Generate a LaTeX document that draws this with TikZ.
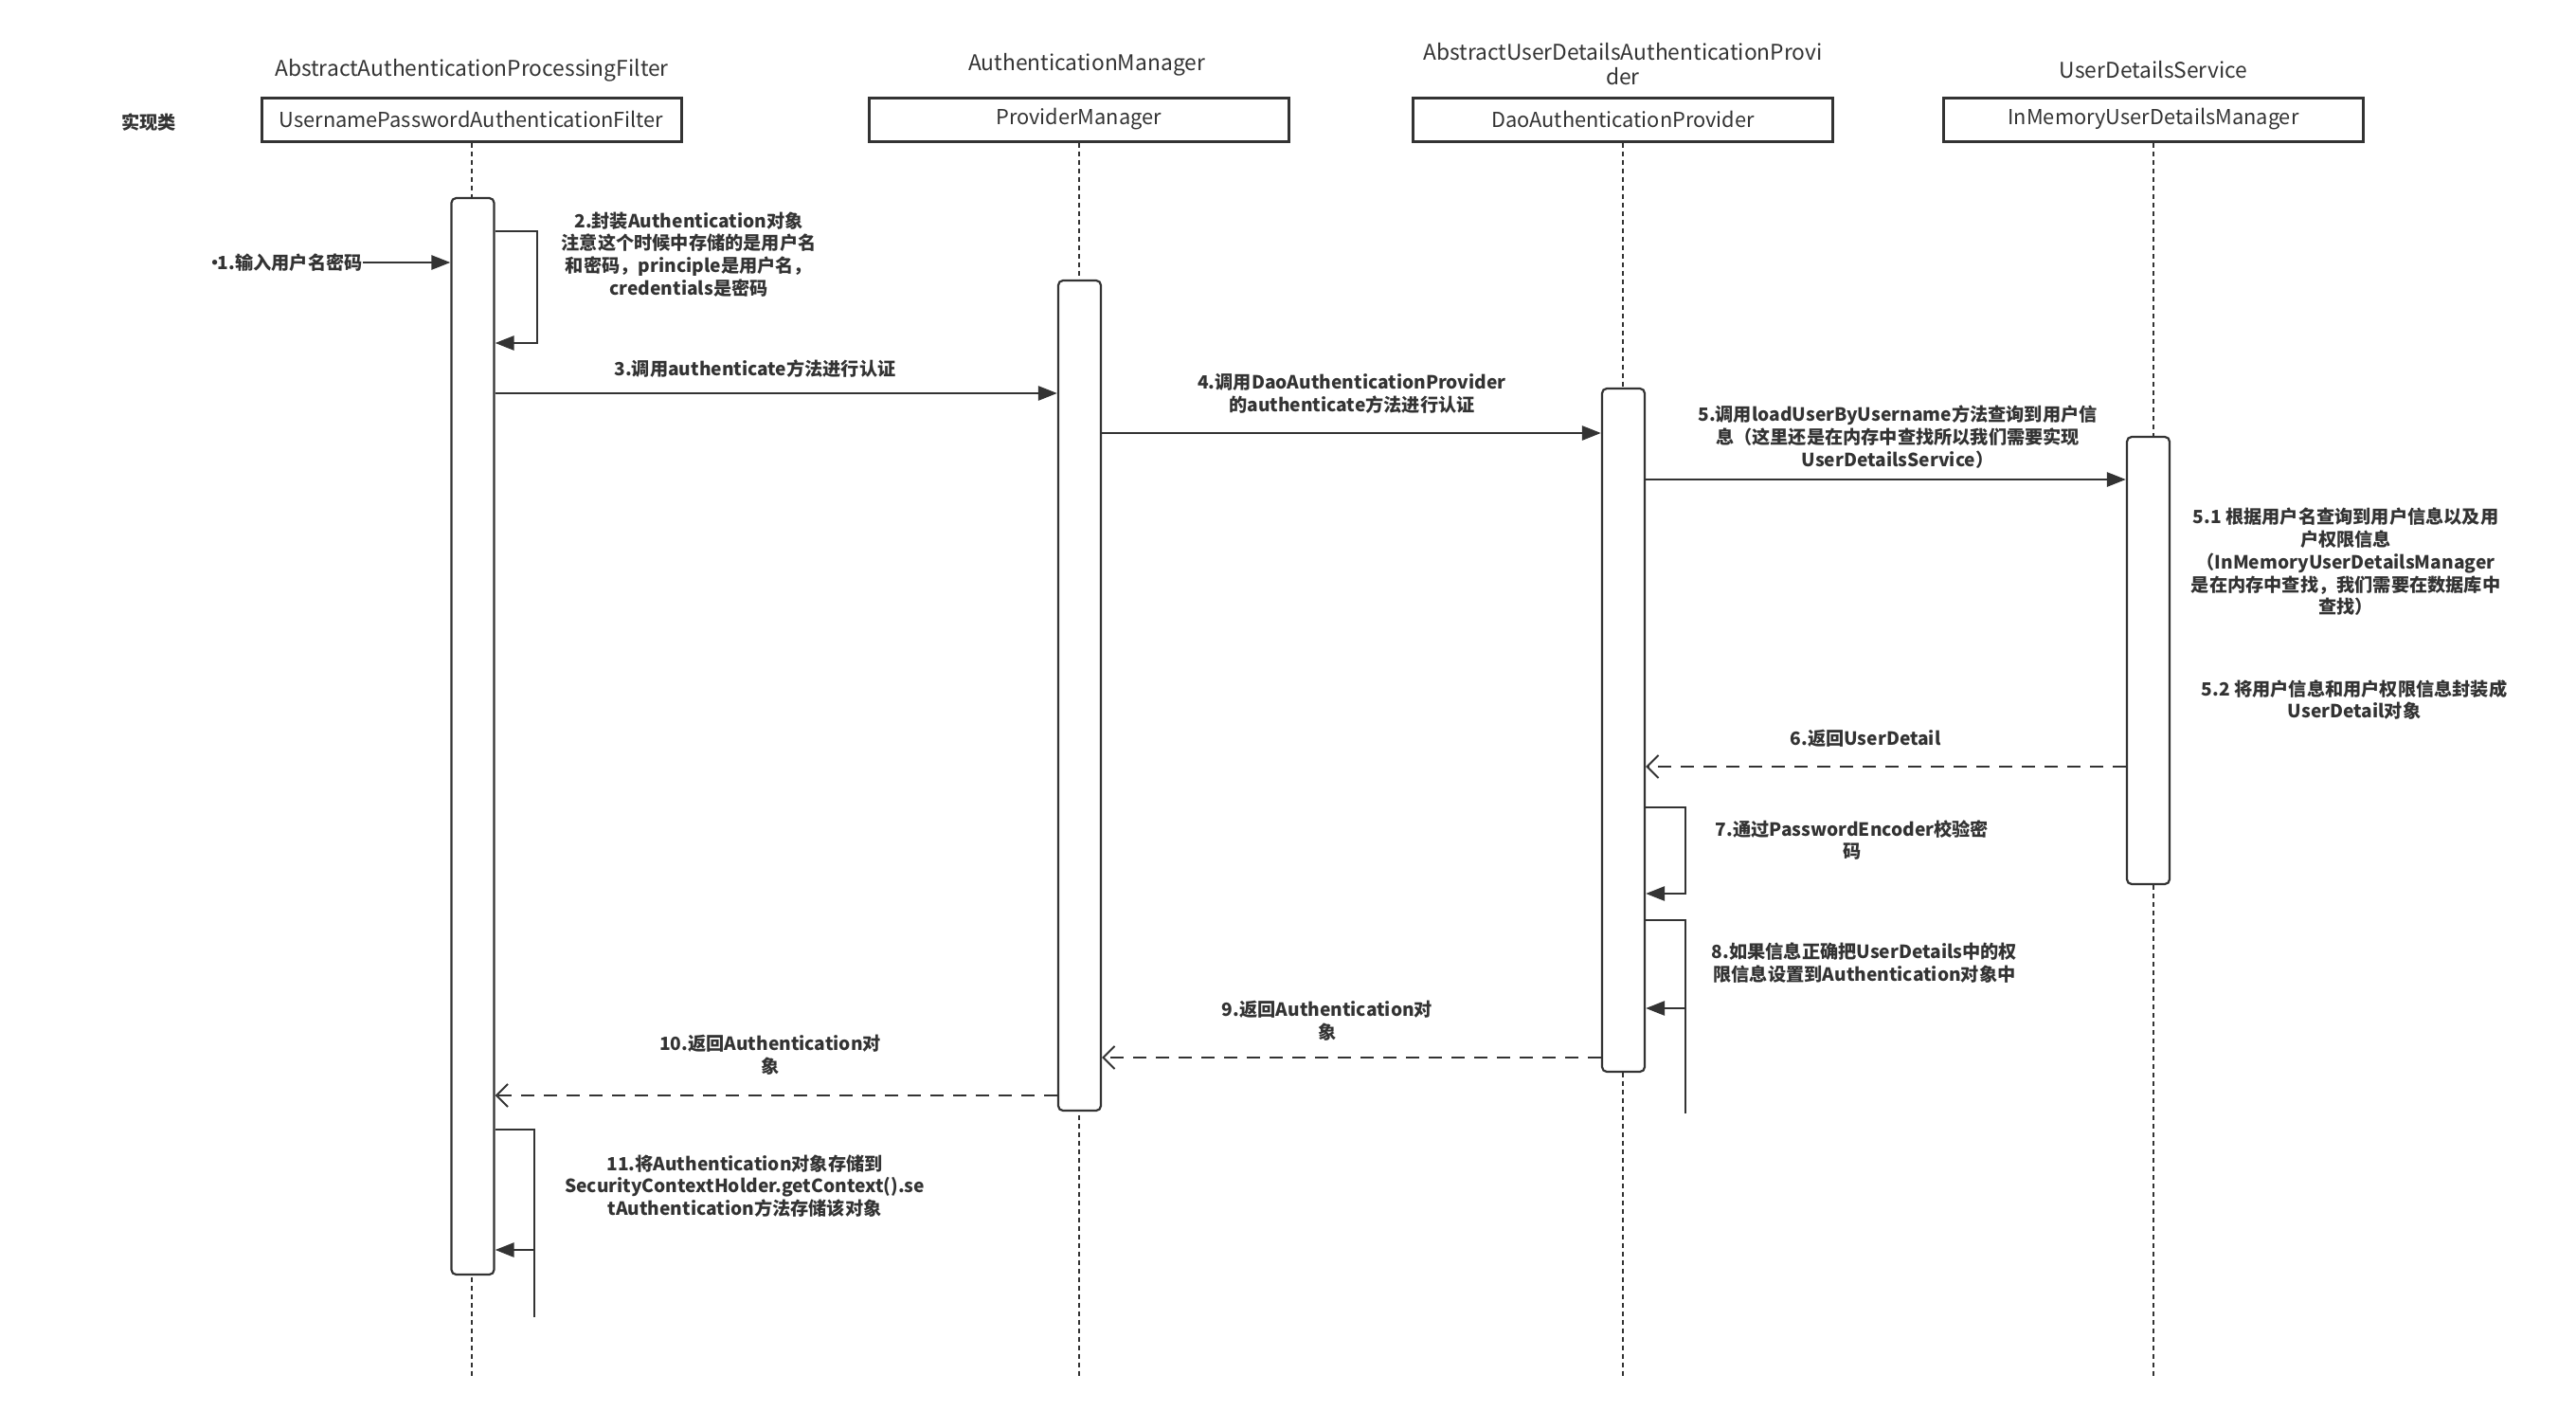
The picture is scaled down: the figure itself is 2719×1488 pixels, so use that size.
\documentclass[tikz,border=0pt]{standalone}
\usepackage{fontspec}
\setmainfont{Noto Sans CJK SC}
\usetikzlibrary{arrows.meta}
\definecolor{ink}{HTML}{333333}
\tikzset{
  classbox/.style={draw=ink, line width=1.5pt, rectangle, minimum width=221.5pt, minimum height=23pt, inner sep=0pt, text=ink, font=\fontsize{10.9}{13}\selectfont},
  ttl/.style={text=ink, align=center, inner sep=0pt, font=\fontsize{11.4}{13}\selectfont},
  lbl/.style={text=ink, align=center, inner sep=0pt, font=\fontsize{9.6}{11.9}\selectfont\bfseries},
  actbar/.style={draw=ink, fill=white, line width=1.1pt, rounded corners=2.5pt, minimum width=22.5pt, inner sep=0pt},
  life/.style={draw=ink, line width=1pt, dash pattern=on 2.5pt off 2pt},
  sync/.style={draw=ink, line width=1.3pt, -{Triangle[length=10pt,width=7.5pt]}},
  ret/.style={draw=ink, line width=1.3pt, dash pattern=on 7pt off 5pt, -{Straight Barb[length=6pt,width=12pt,line width=1pt]}},
  plain/.style={draw=ink, line width=1.3pt},
}
\begin{document}
\begin{tikzpicture}[x=0.5pt,y=-0.5pt]
\useasboundingbox (0,0) rectangle (2719,1488);
% titles
\node[ttl] (t1) at (498,74) {AbstractAuthenticationProcessingFilter};
\node[ttl] (t2) at (1147,68) {AuthenticationManager};
\node[ttl] (t3) at (1713,68) {AbstractUserDetailsAuthenticationProvi\\der};
\node[ttl] (t4) at (2273,74) {UserDetailsService};
\node[lbl] (impl) at (157,129) {实现类};
% class boxes
\node[classbox] (c1) at (497.5,126) {UsernamePasswordAuthenticationFilter};
\node[classbox] (c2) at (1138.5,126) {ProviderManager};
\node[classbox] (c3) at (1713,126) {DaoAuthenticationProvider};
\node[classbox] (c4) at (2273,126) {InMemoryUserDetailsManager};
% lifelines
\coordinate (e1) at (497.5,1452);
\coordinate (e2) at (1138.5,1452);
\coordinate (e3) at (1713,1452);
\coordinate (e4) at (2273,1452);
\draw[life] (c1.south) -- (e1);
\draw[life] (c2.south) -- (e2);
\draw[life] (c3.south) -- (e3);
\draw[life] (c4.south) -- (e4);
% activation bars
\node[actbar, minimum height=568pt] (b1) at (499,777) {};
\node[actbar, minimum height=438pt] (b2) at (1139.5,734) {};
\node[actbar, minimum height=360.5pt] (b3) at (1713.5,770.5) {};
\node[actbar, minimum height=236pt] (b4) at (2267.5,697) {};
% message 1
\node[lbl, anchor=east] (m1) at (383,277) {·\kern-0.38em1.输入用户名密码};
\draw[sync] (m1.east) -- (b1.west |- m1.east);
% message 2 (self)
\draw[sync] (b1.east |- 0,244) -| (567,362) -- (b1.east |- 0,362);
\node[lbl] (l2) at (727,268.5) {2.封装Authentication对象\\注意这个时候中存储的是用户名\\和密码，principle是用户名，\\credentials是密码};
% message 3
\draw[sync] (b1.east |- 0,415) -- (b2.west |- 0,415);
\node[lbl] (l3) at (797,389) {3.调用authenticate方法进行认证};
% message 4
\draw[sync] (b2.east |- 0,457) -- (b3.west |- 0,457);
\node[lbl] (l4) at (1427,415.5) {4.调用DaoAuthenticationProvider\\的authenticate方法进行认证};
% message 5
\draw[sync] (b3.east |- 0,506) -- (b4.west |- 0,506);
\node[lbl] (l5) at (2003,461) {5.调用loadUserByUsername方法查询到用户信\\息（这里还是在内存中查找所以我们需要实现\\UserDetailsService）};
\node[lbl] (l51) at (2476,593) {5.1 根据用户名查询到用户信息以及用\\户权限信息\\（InMemoryUserDetailsManager\\是在内存中查找，我们需要在数据库中\\查找）};
\node[lbl] (l52) at (2485,738.5) {5.2 将用户信息和用户权限信息封装成\\UserDetail对象};
% message 6
\draw[ret] (b4.west |- 0,809) -- (b3.east |- 0,809);
\node[lbl] (l6) at (1969,779) {6.返回UserDetail};
% message 7 (self)
\draw[sync] (b3.east |- 0,852) -| (1779,943) -- (b3.east |- 0,943);
\node[lbl] (l7) at (1955,886.5) {7.通过PasswordEncoder校验密\\码};
% message 8 (self)
\coordinate (s8top) at (1779,971);
\coordinate (s8end) at (1779,1175);
\coordinate (s8arr) at (1779,1064);
\draw[plain] (b3.east |- s8top) -- (s8top) -- (s8end);
\draw[sync] (s8arr) -- (b3.east |- s8arr);
\node[lbl] (l8) at (1968,1016) {8.如果信息正确把UserDetails中的权\\限信息设置到Authentication对象中};
% message 9
\draw[ret] (b3.west |- 0,1116) -- (b2.east |- 0,1116);
\node[lbl] (l9) at (1401,1077.5) {9.返回Authentication对\\象};
% message 10
\draw[ret] (b2.west |- 0,1156) -- (b1.east |- 0,1156);
\node[lbl] (l10) at (813,1113) {10.返回Authentication对\\象};
% message 11 (self)
\coordinate (s11top) at (564,1192);
\coordinate (s11end) at (564,1390);
\coordinate (s11arr) at (564,1319);
\draw[plain] (b1.east |- s11top) -- (s11top) -- (s11end);
\draw[sync] (s11arr) -- (b1.east |- s11arr);
\node[lbl] (l11) at (786,1251.5) {11.将Authentication对象存储到\\SecurityContextHolder.getContext().se\\tAuthentication方法存储该对象};
\end{tikzpicture}
\end{document}
